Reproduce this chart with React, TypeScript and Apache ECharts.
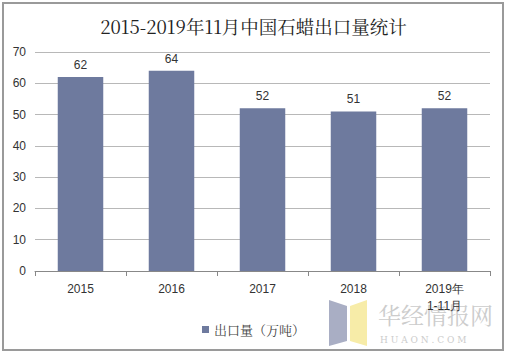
import React, { useEffect, useRef } from "react";
import * as echarts from "echarts";

const categories = ["2015", "2016", "2017", "2018", "2019年\n1-11月"];
const values = [62, 64, 52, 51, 52];
const seriesName = "出口量（万吨）";
const titleText = "2015-2019年11月中国石蜡出口量统计";

export default function App() {
  const ref = useRef<HTMLDivElement>(null);
  useEffect(() => {
    const chart = echarts.init(ref.current!, null, { renderer: "svg" });
    chart.setOption({
      animation: false,
      backgroundColor: "#ffffff",
      title: {
        text: titleText,
        left: "center",
        top: 12,
        textStyle: {
          fontFamily: "'Noto Serif CJK SC', 'DejaVu Serif', serif",
          fontSize: 18.5,
          fontWeight: "normal",
          color: "#222",
        },
      },
      legend: {
        bottom: 14,
        left: "center",
        itemWidth: 7,
        itemHeight: 7,
        icon: "rect",
        itemGap: 4,
        textStyle: {
          fontFamily: "'Noto Serif CJK SC', serif",
          fontSize: 13,
          color: "#444",
        },
        data: [seriesName],
      },
      grid: { left: 35, right: 17, top: 52, bottom: 84, containLabel: false },
      xAxis: {
        type: "category",
        data: categories,
        axisLine: { lineStyle: { color: "#888" } },
        axisTick: { show: true, length: 5, lineStyle: { color: "#888" } },
        axisLabel: {
          fontFamily: "'Liberation Sans', Arial, sans-serif",
          fontSize: 12,
          color: "#333",
          margin: 9,
          lineHeight: 17,
        },
      },
      yAxis: {
        type: "value",
        min: 0,
        max: 70,
        interval: 10,
        axisLine: { show: false },
        axisTick: { show: false },
        splitLine: { lineStyle: { color: "#b8b8b8" } },
        axisLabel: {
          fontFamily: "'Liberation Sans', Arial, sans-serif",
          fontSize: 12,
          color: "#333",
          margin: 9,
        },
      },
      series: [
        {
          name: seriesName,
          type: "bar",
          data: values,
          barWidth: "50%",
          itemStyle: { color: "#6e7a9e" },
          label: {
            show: true,
            position: "top",
            distance: 6,
            fontFamily: "'Liberation Sans', Arial, sans-serif",
            fontSize: 12,
            color: "#333",
          },
        },
      ],
      graphic: [
        {
          type: "rect",
          shape: { x: 3, y: 3, width: 500, height: 347 },
          style: { fill: "none", stroke: "#9a9a9a", lineWidth: 2 },
          silent: true,
        },
        {
          type: "polygon",
          shape: { points: [[329, 300], [347, 306], [347, 341], [329, 346]] },
          style: { fill: "#a9aec4" },
          silent: true,
          z: -1,
        },
        {
          type: "polygon",
          shape: { points: [[350, 306], [367, 300], [367, 346], [350, 341]] },
          style: { fill: "#f7eca8" },
          silent: true,
          z: -1,
        },
        {
          type: "text",
          x: 378,
          y: 303,
          style: {
            text: "华经情报网",
            font: "23px 'Noto Serif CJK SC', serif",
            fill: "#cccccc",
          },
          silent: true,
          z: -1,
        },
        {
          type: "text",
          x: 380,
          y: 335,
          style: {
            text: "H U A O N . C O M",
            font: "9px 'DejaVu Serif', serif",
            fill: "#cccccc",
          },
          silent: true,
          z: -1,
        },
      ],
    });
    return () => chart.dispose();
  }, []);
  return (
    <div
      ref={ref}
      style={{ position: "fixed", left: 0, top: 0, width: 507, height: 355 }}
    />
  );
}
